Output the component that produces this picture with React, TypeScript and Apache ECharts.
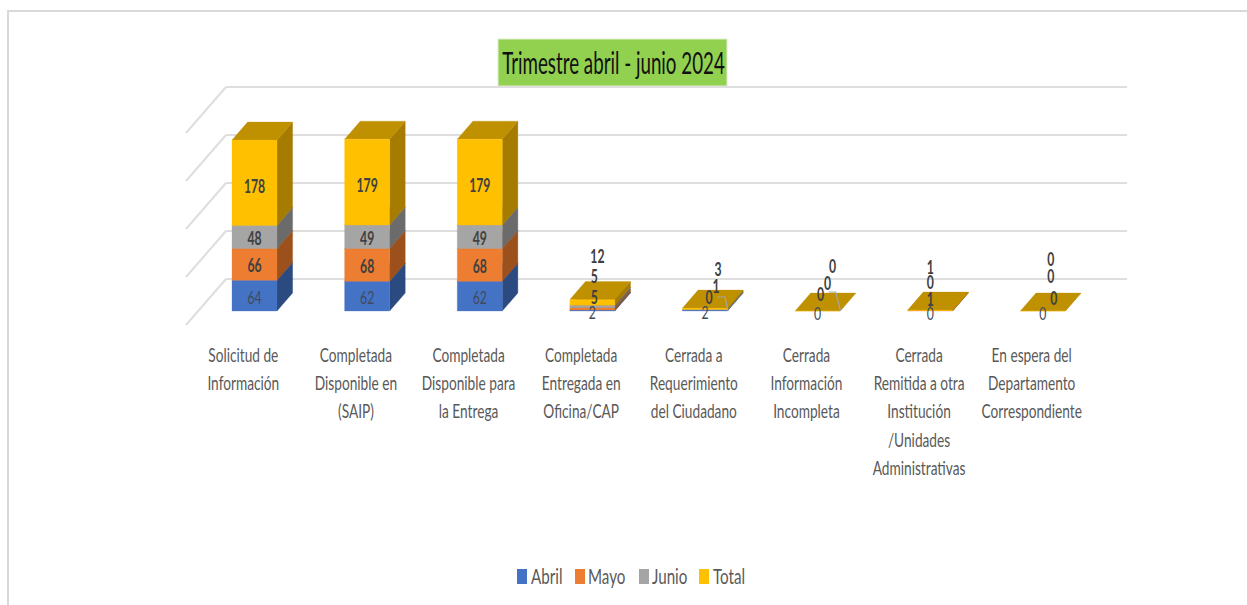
import React, { useEffect, useRef } from "react";
import * as echarts from "echarts";

const categories = [
  "Solicitud de\nInformación",
  "Completada\nDisponible en\n(SAIP)",
  "Completada\nDisponible para\nla Entrega",
  "Completada\nEntregada en\nOficina/CAP",
  "Cerrada a\nRequerimiento\ndel Ciudadano",
  "Cerrada\nInformación\nIncompleta",
  "Cerrada\nRemitida a otra\nInstitución\n/Unidades\nAdministrativas",
  "En espera del\nDepartamento\nCorrespondiente",
];
const abril = [64, 62, 62, 2, 2, 0, 0, 0];
const mayo = [66, 68, 68, 5, 0, 0, 1, 0];
const junio = [48, 49, 49, 5, 1, 0, 0, 0];
const total = [178, 179, 179, 12, 3, 0, 1, 0];
const seriesNames = ["Abril", "Mayo", "Junio", "Total"];
const ticks = [0, 100, 200, 300, 400];
const title = "Trimestre abril - junio 2024";

const FONT = 'Lato, "Liberation Sans", sans-serif';
const faces = [
  { front: "#4472c4", side: "#2a4a80", top: "#335a9e" },
  { front: "#ed7d31", side: "#9c511c", top: "#bd5f20" },
  { front: "#a5a5a5", side: "#6b6b6b", top: "#848484" },
  { front: "#ffc000", side: "#a67c00", top: "#bf9000" },
];
// 3D projection of the chart's floor, in pixels
const WALL_DX = 40;
const WALL_DY = 46;
const FRONT_DX = 27.8;
const FRONT_DY = 32;
const BAR_DX = 15.6;
const BAR_DY = 18;
const BAR_W = 45;
const LABEL_SCALE = 0.68;
const CAT_SCALE = 0.685;
const TITLE_SCALE = 0.605;
const LEGEND_SCALE = 0.69;

const legendSwatchX = [517, 575, 639, 699];
const legendTextX = [531, 588, 652, 713];

// manually placed data labels: category -> per-series [dx from bar centre, dy from bar floor]
const labelPlacement: Record<number, number[][]> = {
  3: [[0, 1], [2, -14], [2, -35], [5, -55]],
  4: [[0, 1], [4, -14], [11, -25], [13, -42]],
  5: [[0, 2], [3, -17], [10, -28], [15, -45]],
  6: [[0, 2], [0, -12], [0, -29], [0, -44]],
  7: [[0, 2], [11, -13], [8, -35], [8, -52]],
};
const leaderLines: Record<number, number[][]> = {
  4: [[12, -14], [20, -14], [23, 0]],
  5: [[11, -19], [18, -19], [23, 0]],
  6: [[0, -8], [0, -4]],
};

function makeBarRenderer(si: number) {
  return (_params: any, api: any) => {
    const cat = api.value(0);
    const low = api.coord([cat, api.value(1)]);
    const high = api.coord([cat, api.value(2)]);
    const floor = api.coord([cat, 0])[1] + FRONT_DY;
    const value = api.value(3);
    const cx = low[0] - FRONT_DX;
    const x0 = cx - BAR_W / 2;
    const x1 = cx + BAR_W / 2;
    const yb = low[1] + FRONT_DY;
    const yt = high[1] + FRONT_DY;
    const c = faces[si];
    const poly = (pts: number[][], fill: string) => ({
      type: "polygon",
      shape: { points: pts },
      style: { fill, stroke: fill, lineWidth: 0.3 },
    });
    const children: any[] = [];
    if (value > 0 || si === 3) {
      children.push(
        poly([[x1, yb], [x1 + BAR_DX, yb - BAR_DY], [x1 + BAR_DX, yt - BAR_DY], [x1, yt]], c.side),
        poly([[x0, yt], [x1, yt], [x1 + BAR_DX, yt - BAR_DY], [x0 + BAR_DX, yt - BAR_DY]], c.top),
        poly([[x0, yb], [x1, yb], [x1, yt], [x0, yt]], c.front),
      );
    }
    const place = labelPlacement[cat];
    const lx = cx + (place ? place[si][0] : 0);
    const ly = place ? floor + place[si][1] : (yb + yt) / 2 + (si === 3 ? 3 : 1);
    if (si === 0 && leaderLines[cat]) {
      children.push({
        type: "polyline",
        z2: 50,
        shape: { points: leaderLines[cat].map(([dx, dy]) => [cx + dx, floor + dy]) },
        style: { fill: "none", stroke: cat === 6 ? "#404040" : "#a6a6a6", lineWidth: 1.2 },
      });
    }
    children.push({
      type: "text",
      z2: 100,
      x: lx,
      y: ly,
      scaleX: LABEL_SCALE,
      style: {
        text: String(value),
        fontFamily: FONT,
        fontSize: 18,
        fontWeight: si === 0 ? "normal" : "bold",
        fill: si === 0 ? "#404a5c" : "#404040",
        align: "center",
        verticalAlign: "middle",
      },
    });
    return { type: "group", children };
  };
}

function makeBarData(values: number[][], si: number) {
  return categories.map((_, cat) => {
    let base = 0;
    for (let k = 0; k < si; k++) base += values[k][cat];
    return [cat, base, base + values[si][cat], values[si][cat]];
  });
}

export default function App() {
  const ref = useRef<HTMLDivElement>(null);
  useEffect(() => {
    if (!ref.current) return;
    const chart = echarts.init(ref.current, null, { renderer: "svg" });
    const all = [abril, mayo, junio, total];
    const legendItems = seriesNames.flatMap((name, i) => [
      {
        type: "rect",
        silent: true,
        shape: { x: legendSwatchX[i], y: 569, width: 10, height: 15 },
        style: { fill: faces[i].front },
      },
      {
        type: "text",
        silent: true,
        x: legendTextX[i],
        y: 575,
        scaleX: LEGEND_SCALE,
        style: {
          text: name,
          fontFamily: FONT,
          fontSize: 22,
          fill: "#595959",
          align: "left",
          verticalAlign: "middle",
        },
      },
    ]);
    chart.setOption({
      animation: false,
      backgroundColor: "#ffffff",
      graphic: [
        {
          type: "polyline",
          silent: true,
          shape: { points: [[8, 605], [8, 11], [1247, 11]] },
          style: { fill: "none", stroke: "#d9d9d9", lineWidth: 2 },
        },
        {
          type: "rect",
          silent: true,
          shape: { x: 498, y: 39, width: 229, height: 47 },
          style: { fill: "#92d050", stroke: "#dfeecf", lineWidth: 1 },
        },
        {
          type: "text",
          silent: true,
          x: 613.5,
          y: 62,
          scaleX: TITLE_SCALE,
          style: {
            text: title,
            fontFamily: FONT,
            fontSize: 31,
            fill: "#111111",
            align: "center",
            verticalAlign: "middle",
          },
        },
        ...legendItems,
      ],
      grid: [
        { left: 226, top: 87, width: 901, height: 192 },
        { left: 186, top: 279, width: 901, height: 46 },
      ],
      xAxis: [
        {
          type: "category",
          gridIndex: 0,
          data: categories,
          axisLine: { show: false },
          axisTick: { show: false },
          axisLabel: { show: false },
        },
        {
          type: "category",
          gridIndex: 1,
          data: categories,
          axisLine: { show: false },
          axisTick: { show: false },
          axisLabel: { show: false },
        },
      ],
      yAxis: [
        {
          type: "value",
          gridIndex: 0,
          min: 0,
          max: 400,
          interval: 100,
          axisLine: { show: false },
          axisTick: { show: false },
          axisLabel: { show: false },
          splitLine: { show: true, lineStyle: { color: "#dedede", width: 2 } },
        },
        {
          type: "value",
          gridIndex: 1,
          min: 0,
          max: 400,
          interval: 400,
          axisLine: { show: false },
          axisTick: { show: false },
          axisLabel: { show: false },
          splitLine: { show: false },
        },
      ],
      series: [
        {
          type: "custom",
          name: "walls",
          xAxisIndex: 0,
          yAxisIndex: 0,
          silent: true,
          clip: false,
          data: ticks.map((t) => [0, t]),
          renderItem: (_p: any, api: any) => {
            const p = api.coord([api.value(0), api.value(1)]);
            const xl = p[0] - api.size([1, 0])[0] / 2;
            return {
              type: "line",
              shape: { x1: xl, y1: p[1], x2: xl - WALL_DX, y2: p[1] + WALL_DY },
              style: { stroke: "#dedede", lineWidth: 2 },
            };
          },
        },
        {
          type: "custom",
          name: "categoryLabels",
          xAxisIndex: 1,
          yAxisIndex: 1,
          silent: true,
          clip: false,
          data: categories.map((_, i) => [i, 0]),
          renderItem: (_p: any, api: any) => {
            const i = api.value(0);
            const p = api.coord([i, 0]);
            return {
              type: "text",
              x: p[0] + 1,
              y: p[1] + 15,
              scaleX: CAT_SCALE,
              style: {
                text: categories[i],
                fontFamily: FONT,
                fontSize: 20,
                lineHeight: 28.3,
                fill: "#595959",
                align: "center",
                verticalAlign: "top",
              },
            };
          },
        },
        ...seriesNames.map((name, si) => ({
          type: "custom",
          name,
          xAxisIndex: 0,
          yAxisIndex: 0,
          clip: false,
          itemStyle: { color: faces[si].front },
          encode: { x: 0, y: 2 },
          data: makeBarData(all, si),
          renderItem: makeBarRenderer(si),
        })),
      ],
    });
    return () => chart.dispose();
  }, []);
  return (
    <div
      ref={ref}
      style={{ position: "absolute", left: 0, top: 0, width: 1247, height: 605 }}
    />
  );
}
